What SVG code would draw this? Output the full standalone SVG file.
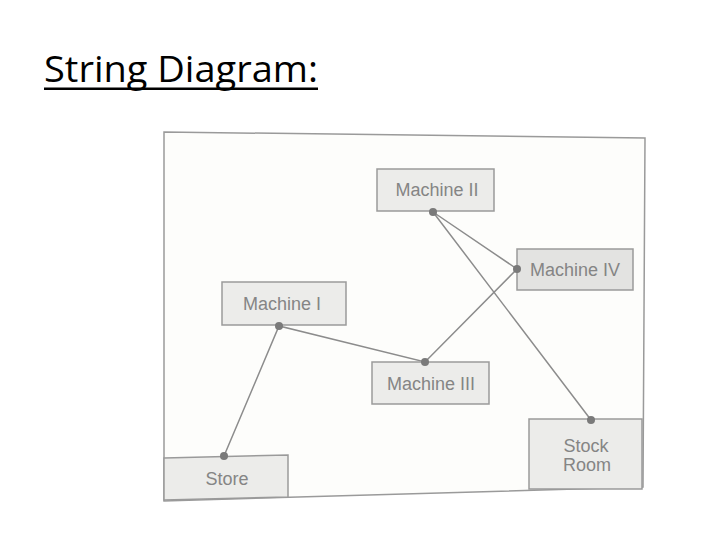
<svg xmlns="http://www.w3.org/2000/svg" width="720" height="540" viewBox="0 0 720 540">
<style>
.box{fill:#ececea;stroke:#9a9a9a;stroke-width:1.5}
.lbl{font-family:"Liberation Sans",Arial,sans-serif;font-size:18px;fill:#858585;text-anchor:middle}
.str{stroke:#8c8c8c;stroke-width:1.5;fill:none}
.dot{fill:#7a7a7a}
</style>
<rect width="720" height="540" fill="#ffffff"/>
<text x="44" y="82" font-family="'Open Sans','Liberation Sans',sans-serif" font-size="36" fill="#000" textLength="274" lengthAdjust="spacingAndGlyphs">String Diagram:</text>
<rect x="44" y="87.5" width="274" height="2.5" fill="#000"/>
<polygon points="164,132 645,138 643,487 164,501" fill="#fdfdfb" stroke="#9a9a9a" stroke-width="1.5"/>
<g id="connectors">
<polyline class="str" points="224,456 279,326 425,362 517,269 433,212 591,420"/>
</g>
<g id="machine2"><rect class="box" x="377" y="169" width="117" height="42"/><text class="lbl" x="437" y="196">Machine II</text></g>
<g id="machine4"><rect class="box" x="517" y="249" width="116" height="41" style="fill:#e3e3e1"/><text class="lbl" x="575" y="276">Machine IV</text></g>
<g id="machine1"><rect class="box" x="222" y="282" width="124" height="43"/><text class="lbl" x="282" y="310">Machine I</text></g>
<g id="machine3"><rect class="box" x="372" y="362" width="117" height="42"/><text class="lbl" x="431" y="390">Machine III</text></g>
<g id="store"><polygon class="box" points="164,458 288,455 288,497 164,500"/><text class="lbl" x="227" y="485">Store</text></g>
<g id="stockroom"><rect class="box" x="529" y="419" width="113" height="70"/><text class="lbl" x="586" y="452">Stock</text><text class="lbl" x="587" y="471">Room</text></g>
<g id="dots">
<circle class="dot" cx="433" cy="212" r="4"/>
<circle class="dot" cx="517" cy="269" r="4"/>
<circle class="dot" cx="279" cy="326" r="4"/>
<circle class="dot" cx="425" cy="362" r="4"/>
<circle class="dot" cx="224" cy="456" r="4"/>
<circle class="dot" cx="591" cy="420" r="4"/>
</g>
</svg>
